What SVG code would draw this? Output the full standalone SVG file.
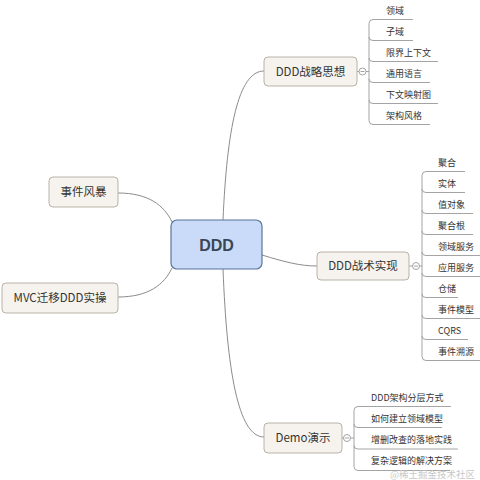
<svg xmlns="http://www.w3.org/2000/svg" width="480" height="480" viewBox="0 0 480 480">
<style>
.bg{fill:#ffffff}
.topic rect{fill:#f6f3ee;stroke:#b9b1a6;stroke-width:1}
.topic text{font-family:"Noto Sans CJK SC","Liberation Sans",sans-serif;font-size:11.5px;fill:#333333;text-anchor:middle}
.root rect{fill:#c9dbf8;stroke:#5b759c;stroke-width:1.2}
.root text{font-family:"Liberation Sans","Noto Sans CJK SC",sans-serif;font-size:16px;font-weight:bold;fill:#3a4656;text-anchor:middle}
.leaf{font-family:"Noto Sans CJK SC","Liberation Sans",sans-serif;font-size:9px;fill:#333333}
.conn{fill:none;stroke:#8c8c8c;stroke-width:1}
.br{fill:none;stroke:#9a9a9a;stroke-width:0.9}
.tog circle{fill:#ffffff;stroke:#9a9a9a;stroke-width:0.9}
.tog line{stroke:#9a9a9a;stroke-width:0.9}
.wm{font-family:"Noto Sans CJK SC",sans-serif;font-size:9.5px;fill:#c8c8c8}
</style>
<rect class="bg" x="0" y="0" width="480" height="480"/>

<g id="connectors">
  <path class="conn" d="M223,220 C227,130 238,71 264,71"/>
  <path class="conn" d="M262,255 C285,262 300,266 317,266"/>
  <path class="conn" d="M223,269 C227,370 238,437 264,437"/>
  <path class="conn" d="M118,193 C148,193 164,205 172,222"/>
  <path class="conn" d="M118,297 C148,297 164,285 172,268"/>
  <line class="br" x1="357" y1="71.5" x2="359" y2="71.5"/>
  <line class="br" x1="366" y1="71.5" x2="369" y2="71.5"/>
  <line class="br" x1="409" y1="266" x2="412.5" y2="266"/>
  <line class="br" x1="419.5" y1="266" x2="422" y2="266"/>
  <line class="br" x1="342" y1="438" x2="343.5" y2="438"/>
  <line class="br" x1="350.5" y1="438" x2="354" y2="438"/>
</g>

<g id="root">
  <g class="root">
    <rect x="171" y="220" width="91" height="49" rx="6"/>
    <text x="216.5" y="250.5">DDD</text>
  </g>
</g>

<g id="n-strategy" class="topic">
  <rect x="264" y="57" width="93" height="29" rx="4"/>
  <text x="310.5" y="75.5">DDD战略思想</text>
</g>
<g id="n-tactics" class="topic">
  <rect x="317" y="252" width="92" height="28" rx="4"/>
  <text x="363" y="270">DDD战术实现</text>
</g>
<g id="n-demo" class="topic">
  <rect x="264" y="423" width="78" height="30" rx="4"/>
  <text x="303" y="442">Demo演示</text>
</g>
<g id="n-storm" class="topic">
  <rect x="49" y="177" width="69" height="30" rx="4"/>
  <text x="83.5" y="196">事件风暴</text>
</g>
<g id="n-mvc" class="topic">
  <rect x="2" y="283" width="116" height="30" rx="4"/>
  <text x="60" y="302">MVC迁移DDD实操</text>
</g>

<g id="toggles" class="tog">
  <circle cx="362.5" cy="71.5" r="3.5"/><line x1="360.5" y1="71.5" x2="364.5" y2="71.5"/>
  <circle cx="416" cy="266" r="3.5"/><line x1="414" y1="266" x2="418" y2="266"/>
  <circle cx="347" cy="438" r="3.5"/><line x1="345" y1="438" x2="349" y2="438"/>
</g>

<g id="strategy-leaves">
  <path class="br" d="M413,19.5 H373 Q369,19.5 369,23.5 V120.5 Q369,124.5 373,124.5 H430"/>
  <path class="br" d="M369,37 Q369,40.5 373,40.5 H413"/>
  <path class="br" d="M369,58 Q369,61.5 373,61.5 H438"/>
  <path class="br" d="M369,79 Q369,82.5 373,82.5 H430"/>
  <path class="br" d="M369,100 Q369,103.5 373,103.5 H438"/>
  <g id="l-s1"><text class="leaf" x="386" y="13.5">领域</text></g>
  <g id="l-s2"><text class="leaf" x="386" y="34.5">子域</text></g>
  <g id="l-s3"><text class="leaf" x="386" y="55.5">限界上下文</text></g>
  <g id="l-s4"><text class="leaf" x="386" y="76.5">通用语言</text></g>
  <g id="l-s5"><text class="leaf" x="386" y="97.5">下文映射图</text></g>
  <g id="l-s6"><text class="leaf" x="386" y="118.5">架构风格</text></g>
</g>

<g id="tactics-leaves">
  <path class="br" d="M465,171.5 H426 Q422,171.5 422,175.5 V356.5 Q422,360.5 426,360.5 H480"/>
  <path class="br" d="M422,189 Q422,192.5 426,192.5 H465"/>
  <path class="br" d="M422,210 Q422,213.5 426,213.5 H473"/>
  <path class="br" d="M422,231 Q422,234.5 426,234.5 H473"/>
  <path class="br" d="M422,252 Q422,255.5 426,255.5 H480"/>
  <path class="br" d="M422,273 Q422,276.5 426,276.5 H480"/>
  <path class="br" d="M422,294 Q422,297.5 426,297.5 H458"/>
  <path class="br" d="M422,315 Q422,318.5 426,318.5 H480"/>
  <path class="br" d="M422,336 Q422,339.5 426,339.5 H468"/>
  <g id="l-t1"><text class="leaf" x="438" y="165.5">聚合</text></g>
  <g id="l-t2"><text class="leaf" x="438" y="186.5">实体</text></g>
  <g id="l-t3"><text class="leaf" x="438" y="207.5">值对象</text></g>
  <g id="l-t4"><text class="leaf" x="438" y="228.5">聚合根</text></g>
  <g id="l-t5"><text class="leaf" x="438" y="249.5">领域服务</text></g>
  <g id="l-t6"><text class="leaf" x="438" y="270.5">应用服务</text></g>
  <g id="l-t7"><text class="leaf" x="438" y="291.5">仓储</text></g>
  <g id="l-t8"><text class="leaf" x="438" y="312.5">事件模型</text></g>
  <g id="l-t9"><text class="leaf" x="438" y="333.5">CQRS</text></g>
  <g id="l-t10"><text class="leaf" x="438" y="354.5">事件溯源</text></g>
</g>

<g id="demo-leaves">
  <path class="br" d="M451,406.5 H358 Q354,406.5 354,410.5 V466.5 Q354,470.5 358,470.5 H450"/>
  <path class="br" d="M354,424 Q354,427.5 358,427.5 H442"/>
  <path class="br" d="M354,445.5 Q354,449 358,449 H458"/>
  <g id="l-d1"><text class="leaf" x="371" y="400.5">DDD架构分层方式</text></g>
  <g id="l-d2"><text class="leaf" x="371" y="421.5">如何建立领域模型</text></g>
  <g id="l-d3"><text class="leaf" x="371" y="443">增删改查的落地实践</text></g>
  <g id="l-d4"><text class="leaf" x="371" y="464">复杂逻辑的解决方案</text></g>
</g>

<text class="wm" x="390" y="478">@稀土掘金技术社区</text>
</svg>
